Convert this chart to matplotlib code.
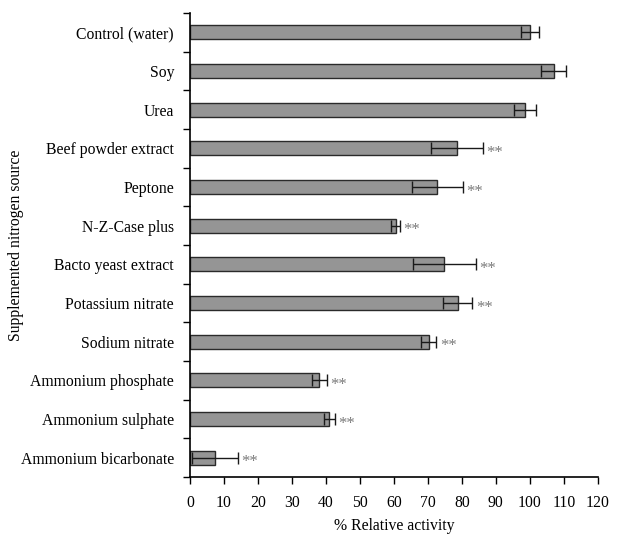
import numpy as np
import matplotlib
matplotlib.use('Agg')
import matplotlib.pyplot as plt

sources = ['Control (water)', 'Soy', 'Urea', 'Beef powder extract', 'Peptone',
           'N-Z-Case plus', 'Bacto yeast extract', 'Potassium nitrate',
           'Sodium nitrate', 'Ammonium phosphate', 'Ammonium sulphate',
           'Ammonium bicarbonate']
activity = [100.0, 107.0, 98.7, 78.5, 72.8, 60.5, 74.9, 78.8, 70.2, 38.1, 41.0, 7.4]
errors = [2.7, 3.8, 3.2, 7.7, 7.6, 1.2, 9.2, 4.3, 2.3, 2.1, 1.7, 6.8]
significant = [False, False, False, True, True, True, True, True, True, True, True, True]
xticks = list(range(0, 121, 10))

plt.rcParams['font.family'] = ['Liberation Serif', 'DejaVu Serif']
plt.rcParams['font.size'] = 11.3

fig = plt.figure(figsize=(6.21, 5.36), dpi=100)
ax = fig.add_axes([0.306, 0.110, 0.6565, 0.8657])

ypos = np.arange(len(sources))
ax.barh(ypos, activity, height=0.36, color='#959595', edgecolor='#2a2a2a',
        linewidth=1.0, zorder=2)
ax.errorbar(activity, ypos, xerr=errors, fmt='none', ecolor='#1a1a1a',
            elinewidth=1.0, capsize=4, capthick=1.0, zorder=3)

# significance markers next to the error bars
for y, v, e, s in zip(ypos, activity, errors, significant):
    if s:
        ax.text(v + e + 1.0, y + 0.12, '**', ha='left', va='center',
                color='#7a7a7a', fontsize=12)

ax.set_ylim(len(sources) - 0.5, -0.5)
ax.set_xlim(0, 120)
ax.set_xticks(xticks)
ax.set_yticks(np.arange(len(sources) + 1) - 0.5, minor=False)
ax.set_yticklabels([])
ax.set_yticks(ypos, minor=True)
ax.set_yticklabels(sources, minor=True)
ax.tick_params(axis='y', which='minor', length=0, pad=11.5)
ax.tick_params(axis='y', which='major', length=5, width=1.0, direction='out')
ax.tick_params(axis='x', length=5, width=1.0, direction='out', pad=8)

for side in ['top', 'right']:
    ax.spines[side].set_visible(False)
ax.spines['left'].set_linewidth(1.2)
ax.spines['bottom'].set_linewidth(1.2)

ax.set_xlabel('% Relative activity', va='center')
ax.xaxis.set_label_coords(0.5, -0.106)
ax.set_ylabel('Supplemented nitrogen source')
ax.yaxis.set_label_coords(-0.407, 0.5)

fig.savefig('out.png', dpi=100)
